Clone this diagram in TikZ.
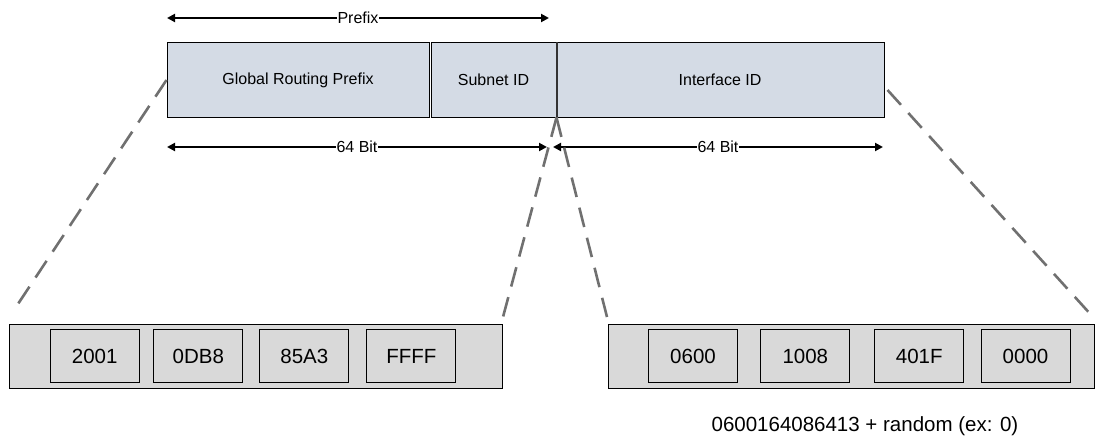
\documentclass[tikz,border=0pt]{standalone}
\usepackage{fontspec}
\setmainfont{Liberation Sans}
\usepackage{tikz}
\usetikzlibrary{arrows.meta,calc}
\definecolor{fieldfill}{RGB}{212,219,229}
\definecolor{groupfill}{RGB}{217,217,217}
\definecolor{zoomline}{RGB}{112,112,112}

\begin{document}
\begin{tikzpicture}[
  x=1pt,y=-1pt,
  every node/.style={font=\fontsize{16}{19}\selectfont},
  field/.style={draw,line width=1pt,fill=fieldfill,minimum height=74pt,inner sep=0pt},
  group/.style={draw,line width=1pt,fill=groupfill,minimum height=64pt,inner sep=0pt},
  hextet/.style={draw,line width=1pt,fill=groupfill,minimum width=89pt,minimum height=53pt,
    inner sep=0pt,font=\fontsize{20.5}{24}\selectfont},
  dim/.style={{Triangle[length=8pt,width=8pt]}-{Triangle[length=8pt,width=8pt]},line width=2pt},
  dimlabel/.style={fill=white,inner sep=1pt},
  zoom/.style={zoomline,line width=2.6pt,dash pattern=on 20pt off 11pt}
]
\useasboundingbox (0,0) rectangle (1095,444);
% Address fields (top row)
\node[field,minimum width=262pt] (grp) at (298,80) {Global Routing Prefix};
\node[field,minimum width=125pt] (subnet) at (493.5,80) {Subnet ID};
\node[field,minimum width=328pt] (iface) at (720,80) {Interface ID};
\draw[line width=2pt,black!80] (subnet.north east) -- (subnet.south east);
% Prefix and 64 bit spans
\coordinate (pfxL) at (167,18);
\coordinate (pfxR) at (549,18);
\coordinate (netL) at (167,147);
\coordinate (netR) at (547,147);
\coordinate (hostL) at (553,147);
\coordinate (hostR) at (883,147);
\draw[dim] (pfxL) -- (pfxR) node[midway,dimlabel] {Prefix};
\draw[dim] (netL) -- (netR) node[midway,dimlabel] {64 Bit};
\draw[dim] (hostL) -- (hostR) node[midway,dimlabel] {64 Bit};
% Hextets of the network part
\node[group,minimum width=493pt] (netgrp) at (255.5,356) {};
\node[hextet] (n1) at (94.7,356) {2001};
\node[hextet] (n2) at (198.3,356) {0DB8};
\node[hextet] (n3) at (304.3,356) {85A3};
\node[hextet] (n4) at (411.3,356) {FFFF};
% Hextets of the interface part
\node[group,minimum width=486pt] (hostgrp) at (851,356) {};
\node[hextet] (h1) at (693,356) {0600};
\node[hextet] (h2) at (805.3,356) {1008};
\node[hextet] (h3) at (919.3,356) {401F};
\node[hextet] (h4) at (1025.5,356) {0000};
\node[font=\fontsize{20.5}{24}\selectfont] (seed) at (865,426) {0600164086413 + random (ex: 0)};
% Zoom lines
\coordinate (netA) at (14,310);
\coordinate (netB) at (503,317);
\coordinate (hostA) at (607,317);
\coordinate (hostB) at (1093,317);
\draw[zoom] (grp.west) -- (netA);
\draw[zoom] (subnet.south east) -- (netB);
\draw[zoom] (subnet.south east) -- (hostA);
\draw[zoom] ($(iface.east)+(3,10)$) -- (hostB);
\end{tikzpicture}
\end{document}
